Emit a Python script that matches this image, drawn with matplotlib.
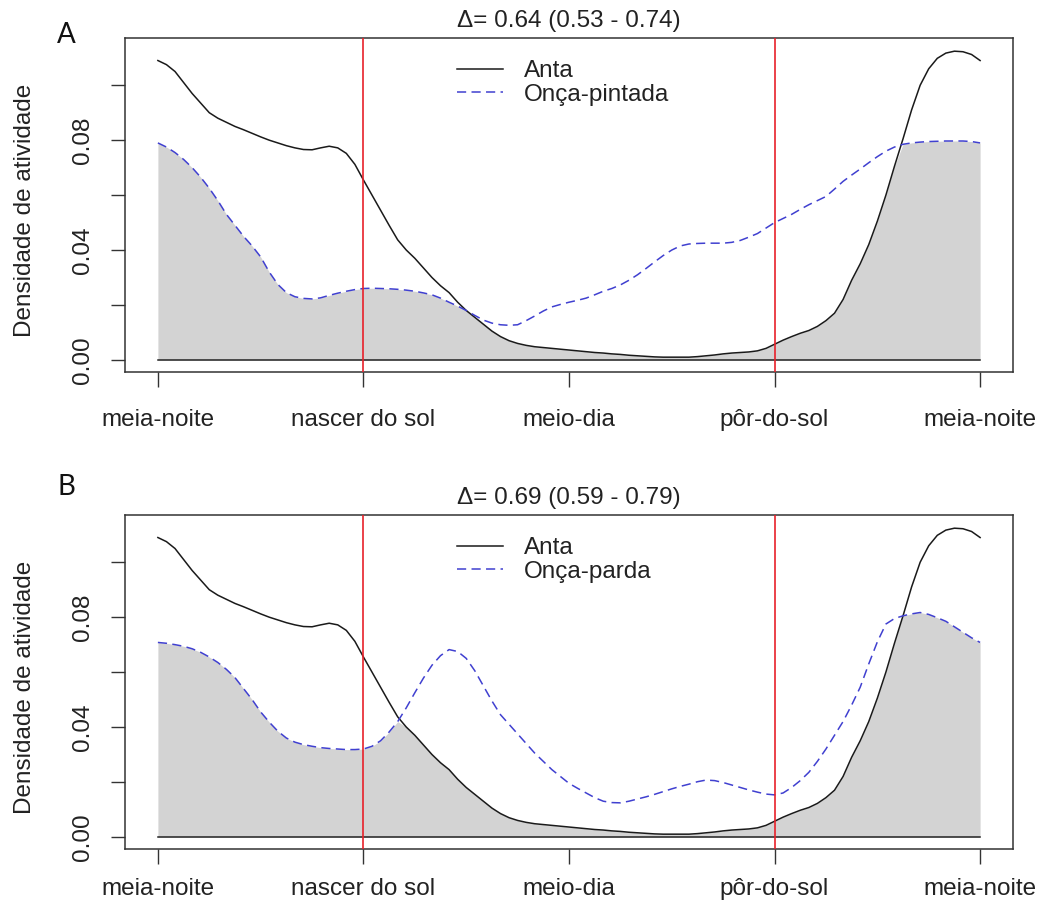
import matplotlib
matplotlib.use("Agg")
import matplotlib.pyplot as plt
import numpy as np

# ---- data, hours 0..24 every 0.25 h ----
hours = np.arange(0, 24.001, 0.25)

anta = [0.109, 0.1075, 0.105, 0.101, 0.097, 0.0935, 0.090, 0.088, 0.0865, 0.085,
        0.0838, 0.0825, 0.0812, 0.080, 0.079, 0.078, 0.0772, 0.0766, 0.0765, 0.0772,
        0.0778, 0.0772, 0.0752, 0.0712, 0.0655, 0.060, 0.0545, 0.049, 0.0437, 0.040,
        0.037, 0.0335, 0.030, 0.027, 0.0245, 0.021, 0.018, 0.0155, 0.013, 0.0105,
        0.0085, 0.007, 0.006, 0.0053, 0.0048, 0.0045, 0.0042, 0.0039, 0.0036, 0.0033,
        0.003, 0.0027, 0.0025, 0.0022, 0.002, 0.0017, 0.0015, 0.0013, 0.0011, 0.001,
        0.001, 0.001, 0.001, 0.0012, 0.0015, 0.0018, 0.0022, 0.0025, 0.0027, 0.0029,
        0.0033, 0.0042, 0.0057, 0.0072, 0.0085, 0.0097, 0.0107, 0.0122, 0.0143, 0.017,
        0.022, 0.029, 0.035, 0.042, 0.0505, 0.060, 0.0705, 0.0805, 0.091, 0.100,
        0.106, 0.1098, 0.1117, 0.1124, 0.1122, 0.1112, 0.109]

onca_pintada = [0.079, 0.0775, 0.0755, 0.073, 0.070, 0.0665, 0.0625, 0.058, 0.053, 0.049,
                0.045, 0.0415, 0.0375, 0.032, 0.0275, 0.0245, 0.023, 0.0224, 0.0222, 0.0226,
                0.0235, 0.0243, 0.025, 0.0256, 0.026, 0.0261, 0.026, 0.0259, 0.0257, 0.0254,
                0.025, 0.0244, 0.0237, 0.0225, 0.021, 0.0196, 0.018, 0.0162, 0.0145, 0.0134,
                0.0128, 0.0126, 0.0128, 0.0143, 0.016, 0.0178, 0.0193, 0.0202, 0.021, 0.0217,
                0.0225, 0.0237, 0.025, 0.026, 0.0273, 0.029, 0.031, 0.0333, 0.0357, 0.038,
                0.040, 0.0415, 0.0422, 0.0424, 0.0425, 0.0425, 0.0425, 0.0428, 0.0435, 0.0447,
                0.046, 0.048, 0.050, 0.0515, 0.053, 0.0548, 0.0565, 0.058, 0.0595, 0.0622,
                0.065, 0.0673, 0.0695, 0.0718, 0.074, 0.076, 0.0775, 0.0785, 0.079, 0.0793,
                0.0795, 0.0796, 0.0797, 0.0797, 0.0797, 0.0795, 0.079]

onca_parda = [0.0708, 0.0705, 0.070, 0.0694, 0.0685, 0.0672, 0.0655, 0.0635, 0.061, 0.058,
              0.054, 0.050, 0.0455, 0.0418, 0.0385, 0.036, 0.0345, 0.0336, 0.033, 0.0325,
              0.0322, 0.032, 0.0318, 0.0318, 0.032, 0.033, 0.035, 0.0382, 0.042, 0.047,
              0.0525, 0.0578, 0.0625, 0.066, 0.0682, 0.0675, 0.065, 0.0605, 0.055, 0.0495,
              0.0445, 0.041, 0.0375, 0.034, 0.0305, 0.0275, 0.0245, 0.022, 0.0195, 0.0177,
              0.016, 0.0143, 0.013, 0.0125, 0.0124, 0.013, 0.0138, 0.0146, 0.0155, 0.0165,
              0.0175, 0.0184, 0.0192, 0.0201, 0.0207, 0.0205, 0.0198, 0.0189, 0.018, 0.0171,
              0.0163, 0.0156, 0.0153, 0.016, 0.018, 0.0205, 0.0235, 0.0275, 0.032, 0.037,
              0.042, 0.048, 0.0545, 0.063, 0.071, 0.0775, 0.0795, 0.0805, 0.0812, 0.0817,
              0.081, 0.0798, 0.0785, 0.0765, 0.0745, 0.0725, 0.0708]

xtick_pos = [0, 6, 12, 18, 24]
xtick_labels = ["meia-noite", "nascer do sol", "meio-dia", "pôr-do-sol", "meia-noite"]
ytick_pos = [0.00, 0.02, 0.04, 0.06, 0.08, 0.10]
ytick_labels = ["0.00", "", "0.04", "", "0.08", ""]
sun_events = [6, 18]

panels = [
    dict(letter="A", title="\u0394= 0.64 (0.53 - 0.74)", other=onca_pintada, other_name="Onça-pintada"),
    dict(letter="B", title="\u0394= 0.69 (0.59 - 0.79)", other=onca_parda, other_name="Onça-parda"),
]

# ---- figure ----
W, H = 1041, 911
plt.rcParams["font.family"] = ["Liberation Sans", "DejaVu Sans"]
FS = 17.5
fig = plt.figure(figsize=(W / 100, H / 100), dpi=100)

axes_px = [(125, 38, 1013, 372), (125, 515, 1013, 849)]
letter_base = [43, 495]
legend_top = [60, 537]
xpad = [16, 10.5]

for i, p in enumerate(panels):
    l, t, r, b = axes_px[i]
    ax = fig.add_axes([l / W, 1 - b / H, (r - l) / W, (b - t) / H])
    a = np.array(anta)
    o = np.array(p["other"])
    ax.fill_between(hours, 0, np.minimum(a, o), color="#d3d3d3", lw=0, zorder=1)
    ax.plot([hours[0], hours[-1]], [0, 0], color="#222222", lw=1.1, zorder=2)
    ax.plot(hours, a, color="#1a1a1a", lw=1.1, zorder=3, label="Anta")
    ax.plot(hours, o, color="#4040d0", lw=1.1, ls=(0, (6, 3.5)), zorder=3, label=p["other_name"])
    for s in sun_events:
        ax.axvline(s, color="#e8212a", lw=1.2, zorder=4)

    ax.set_xlim(-0.96, 24.96)
    ax.set_ylim(-0.0044, 0.1172)
    ax.set_xticks(xtick_pos)
    ax.set_xticklabels(xtick_labels, fontsize=FS, color="#222222")
    ax.set_yticks(ytick_pos)
    ax.set_yticklabels(ytick_labels, fontsize=FS, color="#222222", rotation=90, va="center")
    ax.tick_params(axis="x", direction="out", length=10.5, width=1.0, pad=xpad[i], color="#333333")
    ax.tick_params(axis="y", direction="out", length=10, width=1.0, pad=12, color="#333333")
    for sp in ax.spines.values():
        sp.set_linewidth(1.1)
        sp.set_color("#333333")

    leg = ax.legend(loc="upper left",
                    bbox_to_anchor=((457 - l) / (r - l), (b - legend_top[i]) / (b - t)),
                    frameon=False, fontsize=FS, handlelength=1.9, handletextpad=0.85,
                    labelspacing=0.08, borderpad=0, borderaxespad=0)
    for txt in leg.get_texts():
        txt.set_color("#222222")

    ax.text(0.5, 1 + 11 / (b - t), p["title"], transform=ax.transAxes, ha="center", va="baseline",
            fontsize=FS, color="#222222")
    fig.text(25.5 / W, 1 - ((t + b) / 2 + 5) / H, "Densidade de atividade", rotation=90,
             ha="center", va="center", fontsize=FS, color="#222222")
    fig.text(66 / W, 1 - letter_base[i] / H, p["letter"], ha="center", va="baseline",
             fontsize=20, family=["Lato", "DejaVu Sans"], color="#111111")

fig.savefig("out.png", dpi=100)
